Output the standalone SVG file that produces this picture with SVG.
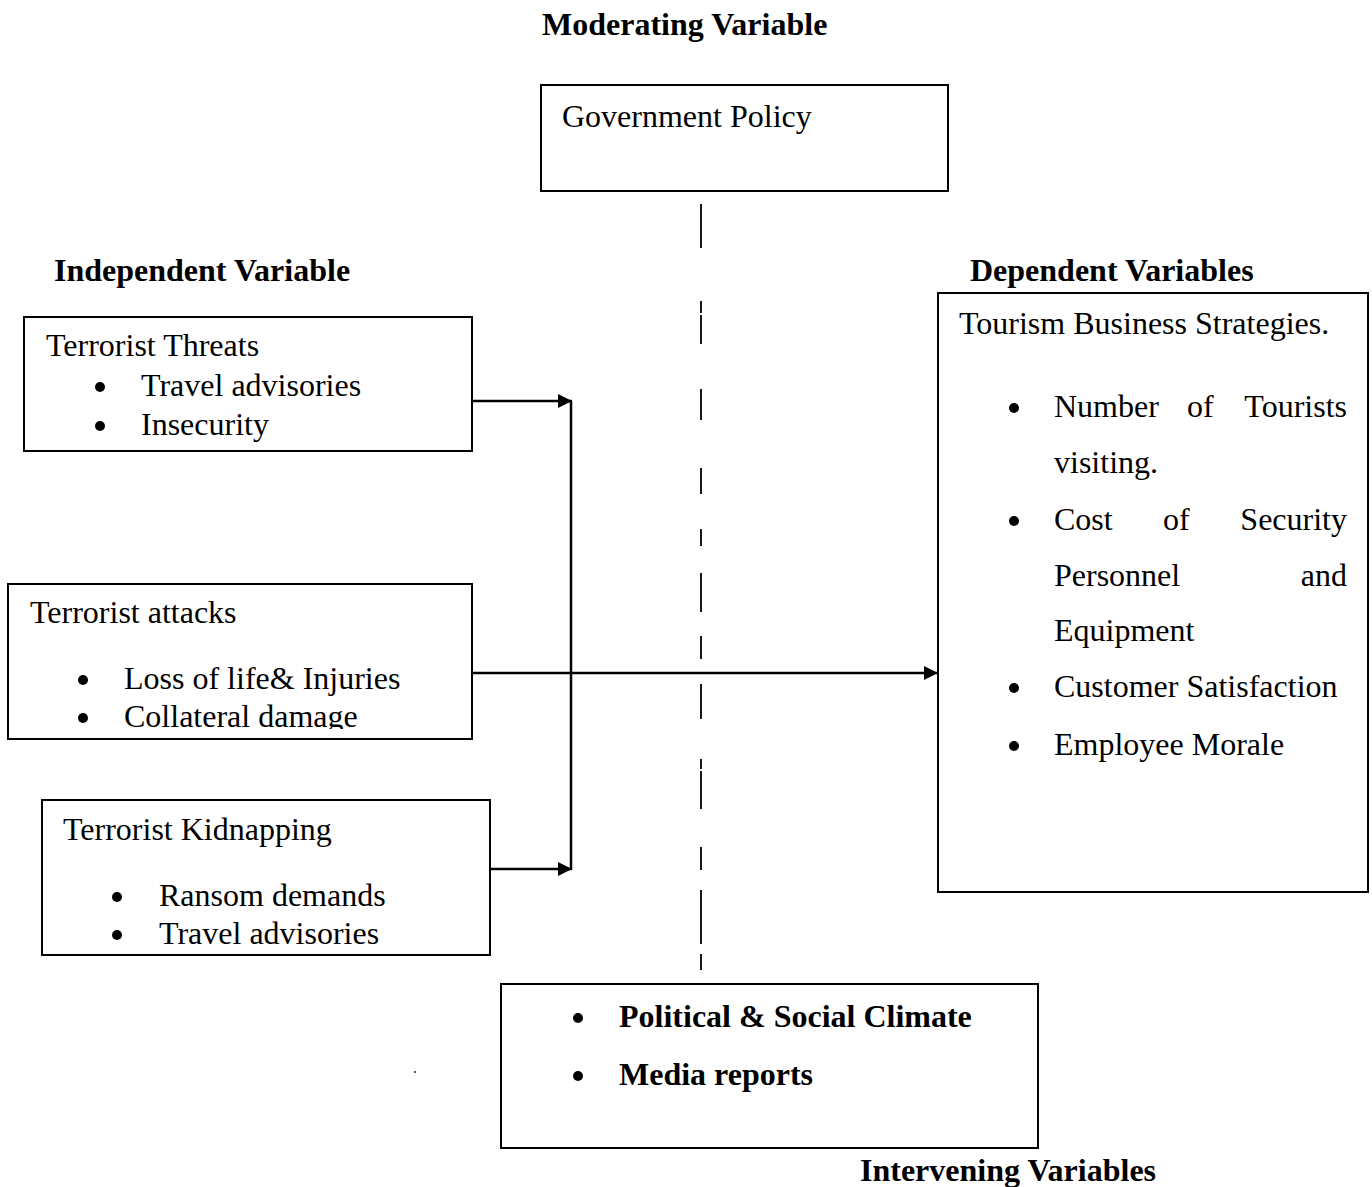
<svg xmlns="http://www.w3.org/2000/svg" width="1372" height="1187" viewBox="0 0 1372 1187">
<style>
text{font-family:"Liberation Serif","Times New Roman",serif;font-size:32px;fill:#000}
.b{font-weight:bold}
.box{fill:#fff;stroke:#000;stroke-width:2}
.dot{fill:#000}
.conn{fill:none;stroke:#000;stroke-width:2.5}
.dash{fill:none;stroke:#000;stroke-width:1.8}
</style>
<defs>
<marker id="ah" markerUnits="userSpaceOnUse" markerWidth="15" markerHeight="15" refX="14" refY="7" orient="auto">
<path d="M0,0 L14,7 L0,14 z" fill="#000"/>
</marker>
<clipPath id="clip2"><rect x="8" y="584" width="464" height="145"/></clipPath>
</defs>
<rect width="1372" height="1187" fill="#fff"/>

<text class="b" x="542" y="35">Moderating Variable</text>
<text class="b" x="54" y="281">Independent Variable</text>
<text class="b" x="970" y="281">Dependent Variables</text>
<text class="b" x="860" y="1181">Intervening Variables</text>

<g id="connectors">
<path class="dash" d="M701,204V248M701,301V313M701,315V344M701,389V420M701,468V494M701,529V546M701,573V612M701,636V659M701,684V719M701,759V769M701,771V809M701,847V870M701,890V944M701,954V970"/>
<path class="conn" d="M571,401V870"/>
<path class="conn" d="M472,401H572" marker-end="url(#ah)"/>
<path class="conn" d="M491,869H572" marker-end="url(#ah)"/>
<path class="conn" d="M472,673H938" marker-end="url(#ah)"/>
</g>

<g id="gov">
<rect class="box" x="541" y="85" width="407" height="106"/>
<text x="562" y="127">Government Policy</text>
</g>

<g id="threats">
<rect class="box" x="24" y="317" width="448" height="134"/>
<text x="46" y="356">Terrorist Threats</text>
<circle class="dot" cx="100" cy="387" r="5"/>
<text x="141" y="396">Travel advisories</text>
<circle class="dot" cx="100" cy="426" r="5"/>
<text x="141" y="435">Insecurity</text>
</g>

<g id="attacks">
<rect class="box" x="8" y="584" width="464" height="155"/>
<text x="30" y="623">Terrorist attacks</text>
<circle class="dot" cx="83" cy="680" r="5"/>
<text x="124" y="689">Loss of life&amp; Injuries</text>
<circle class="dot" cx="83" cy="718" r="5"/>
<text x="124" y="727" clip-path="url(#clip2)">Collateral damage</text>
</g>

<g id="kidnap">
<rect class="box" x="42" y="800" width="448" height="155"/>
<text x="63" y="840">Terrorist Kidnapping</text>
<circle class="dot" cx="117" cy="897" r="5"/>
<text x="159" y="906">Ransom demands</text>
<circle class="dot" cx="117" cy="935" r="5"/>
<text x="159" y="944">Travel advisories</text>
</g>

<g id="dependent">
<rect class="box" x="938" y="293" width="430" height="599"/>
<text x="959" y="334">Tourism Business Strategies.</text>
<circle class="dot" cx="1014" cy="408" r="5"/>
<text x="1054" y="417">Number</text>
<text x="1187" y="417">of</text>
<text x="1347" y="417" text-anchor="end">Tourists</text>
<text x="1054" y="473">visiting.</text>
<circle class="dot" cx="1014" cy="521" r="5"/>
<text x="1054" y="530">Cost</text>
<text x="1163" y="530">of</text>
<text x="1347" y="530" text-anchor="end">Security</text>
<text x="1054" y="586">Personnel</text>
<text x="1347" y="586" text-anchor="end">and</text>
<text x="1054" y="641">Equipment</text>
<circle class="dot" cx="1014" cy="688" r="5"/>
<text x="1054" y="697">Customer Satisfaction</text>
<circle class="dot" cx="1014" cy="746" r="5"/>
<text x="1054" y="755">Employee Morale</text>
</g>

<g id="intervening">
<rect class="box" x="501" y="984" width="537" height="164"/>
<circle class="dot" cx="578" cy="1018" r="5"/>
<text class="b" x="619" y="1027">Political &amp; Social Climate</text>
<circle class="dot" cx="578" cy="1076" r="5"/>
<text class="b" x="619" y="1085">Media reports</text>
</g>

<rect x="414" y="1071" width="2" height="2" fill="#555"/>
</svg>
